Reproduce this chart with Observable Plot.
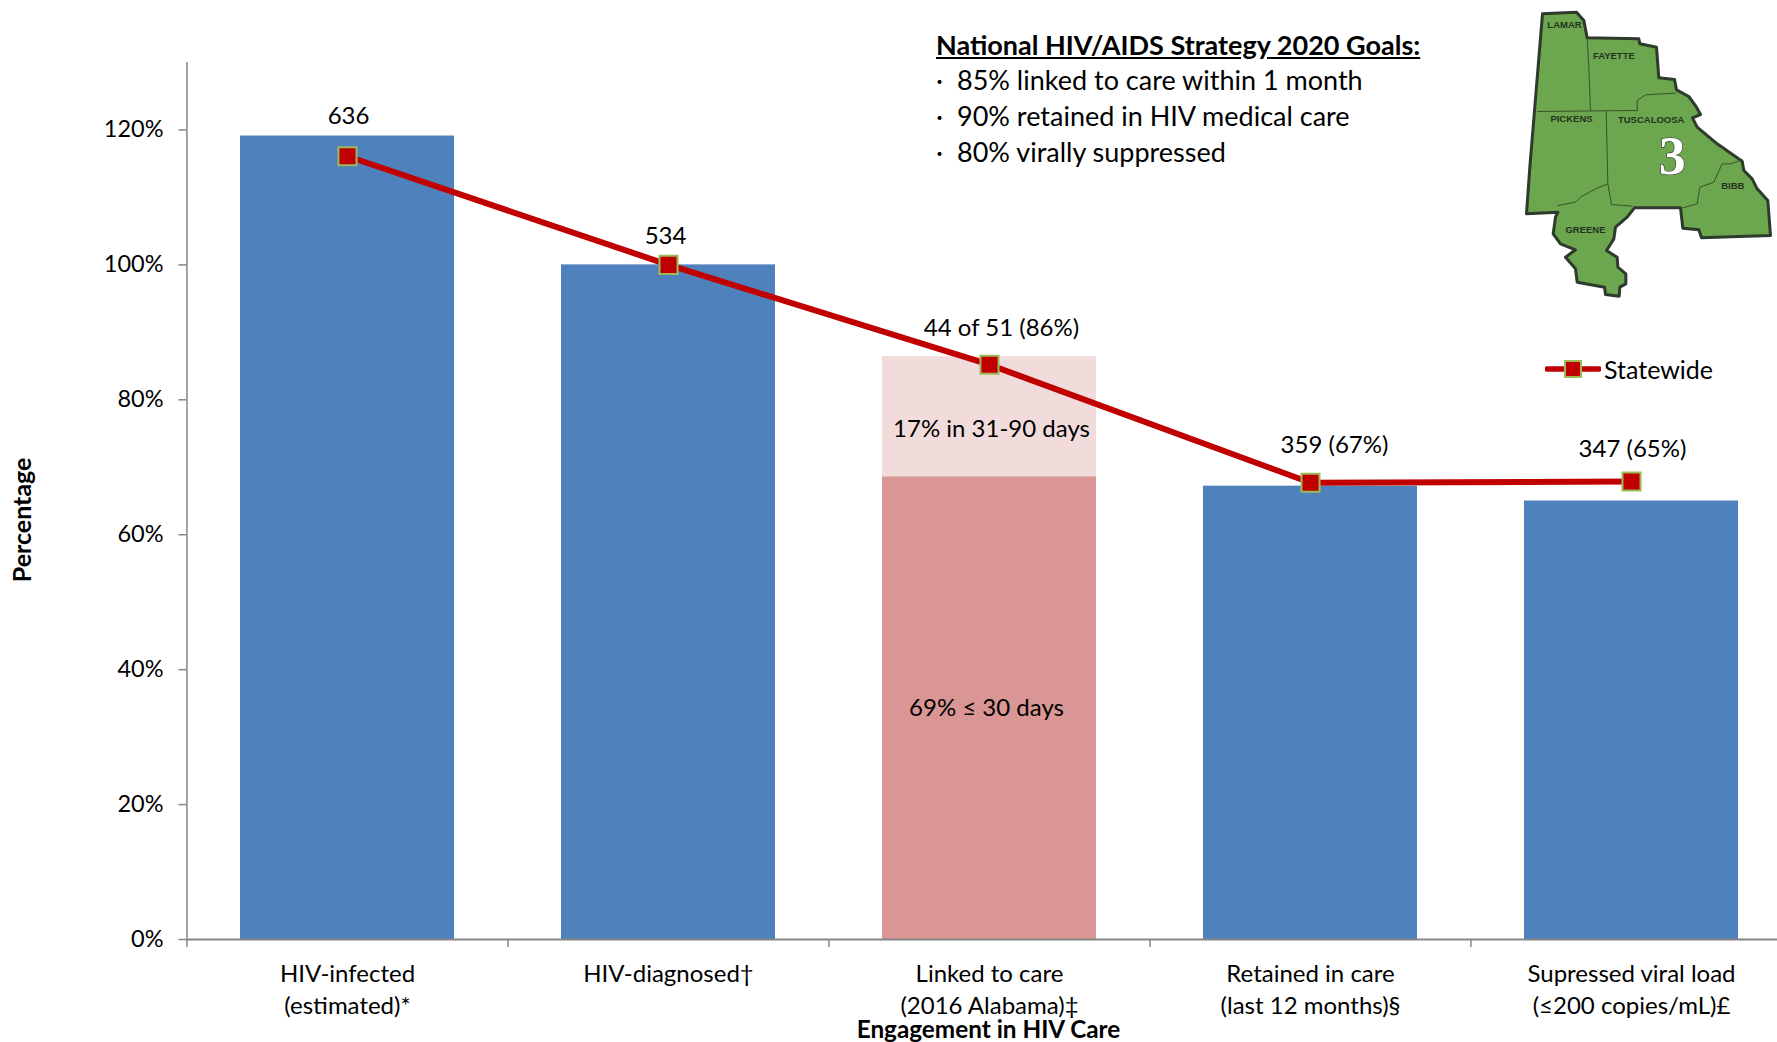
<!DOCTYPE html>
<html><head><meta charset="utf-8">
<script src="https://cdn.jsdelivr.net/npm/d3@7"></script>
<script src="https://cdn.jsdelivr.net/npm/@observablehq/plot@0.6"></script>
<style>
html,body{margin:0;padding:0;background:#fff;overflow:hidden}
#root{position:relative;width:1777px;height:1042px;font-family:Lato,sans-serif;color:#000}
#root svg{display:block}
#goals{position:absolute;left:936px;top:27px;font-size:27px;line-height:36px;white-space:nowrap}
#goals b{text-decoration:underline;display:block;height:35px}
#goals div{height:36px}
#goals div span{display:inline-block;width:21px;line-height:20px}
#map{position:absolute;left:1480px;top:0}
#legend{position:absolute;left:1545px;top:353px;display:flex;align-items:center;font-size:25px;height:32px;white-space:nowrap}
#legend svg{margin-right:3px}
</style></head><body>
<div id="root">
<div id="goals"><b>National HIV/AIDS Strategy 2020 Goals:</b>
<div><span>·</span>85% linked to care within 1 month</div>
<div><span>·</span>90% retained in HIV medical care</div>
<div><span>·</span>80% virally suppressed</div></div>
<div id="legend"><svg width="56" height="22"><line x1="2" x2="54" y1="11" y2="11" stroke="#C00000" stroke-width="5.5" stroke-linecap="round"/><rect x="20" y="3" width="16" height="16" fill="#C00000" stroke="#9BBB59" stroke-width="2"/></svg>Statewide</div>
</div>
<script>
const categories = ["HIV-infected\n(estimated)*","HIV-diagnosed†","Linked to care\n(2016 Alabama)‡","Retained in care\n(last 12 months)§","Supressed viral load\n(≤200 copies/mL)£"];
const barValues = [119.1,100,null,67.2,65];
const linkedWithin30 = 68.6;
const linkedWithin90 = 86.4;
const statewide = [116.1,100,85.2,67.7,67.9];
const yTicks = [0,20,40,60,80,100,120];
const barLabels = ["636","534","44 of 51 (86%)","359 (67%)","347 (65%)"];
const labelAnchors = [119.1,100,86.4,67.2,65];

const FONT = "Lato, sans-serif";
const blue = "#4F81BD", red = "#C00000";
const rows = categories.map((c,i)=>({c,v:barValues[i],s:statewide[i],l:barLabels[i],a:labelAnchors[i]}));
const labelOffsets = [[1,-20],[-3,-29],[12,-28],[24,-41],[1,-52]];
const stepHalf = 160.55;

const chart = Plot.plot({
  width:1777, height:1042, marginLeft:186.5, marginRight:-15, marginTop:62, marginBottom:103,
  style:{fontFamily:FONT,fontSize:"24px",color:"#000",background:"transparent"},
  x:{type:"band",domain:categories,paddingInner:0.3333,paddingOuter:0.16665,align:0.5,label:null},
  y:{domain:[0,130],label:null},
  marks:[
    Plot.barY(rows.filter(d=>d.v!=null),{x:"c",y:"v",fill:blue}),
    Plot.barY([{c:categories[2]}],{x:"c",y1:()=>0,y2:()=>linkedWithin30,fill:"#D99694"}),
    Plot.barY([{c:categories[2]}],{x:"c",y1:()=>linkedWithin30,y2:()=>linkedWithin90,fill:"#F2DCDB"}),
    Plot.ruleX([categories[0]],{x:d=>d,y1:0,y2:130,dx:-stepHalf,stroke:"#868686",strokeWidth:1.5}),
    Plot.ruleY([0],{stroke:"#868686",strokeWidth:2}),
    Plot.ruleX(categories,{x:d=>d,y1:0,y2:-1.2,dx:-stepHalf,stroke:"#868686",strokeWidth:1.5}),
    Plot.axisY({ticks:yTicks,tickFormat:d=>d+"%",tickSize:8,tickPadding:15.5,stroke:"#868686",strokeWidth:1.5,fill:"#000",label:null,fontSize:23.5}),
    Plot.axisX({tickSize:0,tickPadding:19.5,label:null,fill:"#000",lineHeight:1.33,fontSize:24,lineAnchor:"top"}),
    Plot.line(rows,{x:"c",y:"s",stroke:red,strokeWidth:6}),
    Plot.dot(rows,{x:"c",y:"s",symbol:"square",r:10.2,fill:red,stroke:"#9BBB59",strokeWidth:2}),
    ...rows.map((d,i)=>Plot.text([d],{x:"c",y:"a",text:"l",dx:labelOffsets[i][0],dy:labelOffsets[i][1],fontSize:24,fill:"#000"})),
    Plot.text([{c:categories[2],y:(linkedWithin30+linkedWithin90)/2}],{x:"c",y:"y",text:()=>"17% in 31-90 days",dx:2,dy:13,fontSize:24,fill:"#000"}),
    Plot.text([{c:categories[2],y:linkedWithin30/2}],{x:"c",y:"y",text:()=>"69% ≤ 30 days",dx:-3,dy:0,fontSize:24,fill:"#000"}),
    Plot.text([{c:categories[2],y:0}],{x:"c",y:"y",text:()=>"Engagement in HIV Care",dx:-1,dy:91,fontSize:24.3,fontWeight:"bold",fill:"#000"}),
    Plot.text([{c:categories[0],y:62.2}],{x:"c",y:"y",text:()=>"Percentage",dx:-324.5,rotate:-90,fontSize:25,fontWeight:"bold",fill:"#000"})
  ]
});
document.getElementById("root").prepend(chart);

// Inset map, in its own picture units
const outline = [[186,40],[288,35],[310,60],[320,112],[475,115],[478,130],[528,140],[535,232],[582,237],[588,268],[625,288],[648,320],[660,342],[636,352],[650,380],[710,430],[785,482],[790,510],[815,535],[830,565],[862,600],[870,705],[663,712],[655,688],[607,683],[600,622],[462,622],[440,650],[405,680],[400,715],[378,750],[410,770],[412,800],[436,820],[436,850],[418,860],[416,887],[375,882],[372,860],[290,845],[285,805],[255,770],[285,748],[240,730],[218,700],[225,650],[232,635],[138,640],[148,500],[186,40]];
const borders = [
 [[320,112],[325,200],[330,330]],
 [[172,333],[470,330]],
 [[377,333],[382,550],[393,612],[455,617]],
 [[470,330],[470,300],[495,283],[585,278]],
 [[232,615],[285,605],[300,590],[345,565],[382,550]],
 [[607,622],[650,610],[658,560],[700,545],[725,490],[750,490],[785,478]]
];
const counties = [["LAMAR",252,72],["FAYETTE",400,165],["PICKENS",273,355],["TUSCALOOSA",512,357],["BIBB",757,556],["GREENE",315,689]];
const mapPlot = Plot.plot({
  width:297,height:300,margin:0,
  x:{domain:[0,891],axis:null},y:{domain:[900,0],axis:null},
  style:{background:"transparent",fontFamily:"Liberation Sans, sans-serif"},
  marks:[
    Plot.line(outline,{x:"0",y:"1",fill:"#6CA64E",stroke:"#2E3A2B",strokeWidth:3,strokeLinejoin:"round"}),
    ...borders.map(b=>Plot.line(b,{x:"0",y:"1",stroke:"#2F4A2A",strokeWidth:0.9})),
    Plot.text(counties,{x:"1",y:"2",text:"0",fontSize:9.5,fontWeight:"bold",fill:"#24331F"}),
    Plot.text(["3"],{x:()=>575,y:()=>470,text:d=>d,fontSize:54,fontWeight:"bold",fontFamily:"Liberation Serif, serif",fill:"#fff",stroke:"#2E3A2B",strokeWidth:1.2})
  ]
});
mapPlot.id="map";
document.getElementById("root").append(mapPlot);
</script>
</body></html>
